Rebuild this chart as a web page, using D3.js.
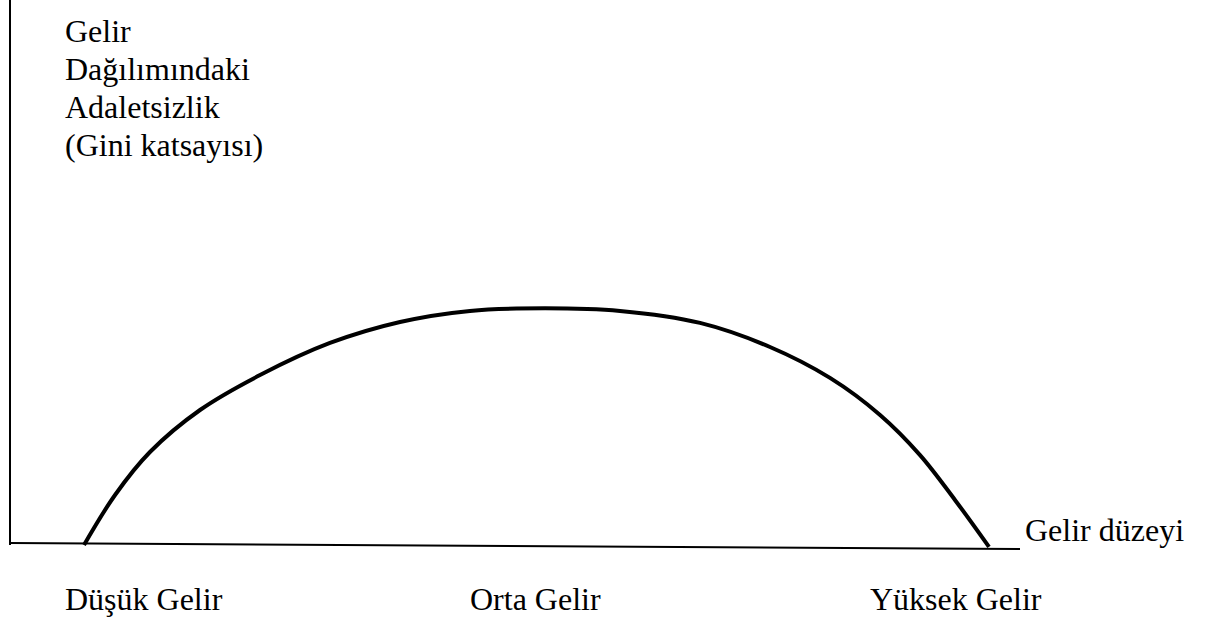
<!DOCTYPE html>
<html>
<head>
<meta charset="utf-8">
<script src="https://cdn.jsdelivr.net/npm/d3@7"></script>
<style>
    body { margin: 0; background: #fff; }
    text { font-family: "Liberation Serif", "Times New Roman", serif; fill: #000; }
</style>
</head>
<body>
<div id="chart"></div>
<script>
// income level (0-100) vs inequality (0-100)
var incomeLevel = [0, 3.43, 7.29, 12.82, 19.45, 27.18, 34.92, 42.65, 50.94, 59.23, 68.07, 75.8, 82.43, 87.96, 92.38, 96.24, 100];
var giniValue   = [0, 21.2, 39.4, 57.2, 72.0, 85.6, 94.5, 99.2, 100.3, 99.2, 94.1, 83.9, 70.8, 55.1, 38.1, 19.1, -0.8];

var yTitle = ["Gelir", "Dağılımındaki", "Adaletsizlik", "(Gini katsayısı)"];
var xTitle = "Gelir düzeyi";
var groupLabels = ["Düşük Gelir", "Orta Gelir", "Yüksek Gelir"];
var groupPos = [-2.1, 42.65, 86.85];

var W = 1213, H = 619;
var svg = d3.select("#chart").append("svg")
    .attr("width", W)
    .attr("height", H);

var x = d3.scaleLinear().domain([0, 100]).range([84, 989]);
var y = d3.scaleLinear().domain([0, 100]).range([545, 309]);

// axes (plain lines, no ticks)
svg.append("line")
    .attr("x1", 10).attr("y1", 0)
    .attr("x2", 10).attr("y2", 545)
    .attr("stroke", "#000").attr("stroke-width", 2);
svg.append("line")
    .attr("x1", 10).attr("y1", 543)
    .attr("x2", 1020).attr("y2", 549)
    .attr("stroke", "#000").attr("stroke-width", 2);

var pts = incomeLevel.map((d, i) => [d, giniValue[i]]);
var line = d3.line()
    .x((d) => x(d[0]))
    .y((d) => y(d[1]))
    .curve(d3.curveCatmullRom.alpha(0.5));

svg.append("path")
    .datum(pts)
    .attr("d", line)
    .attr("fill", "none")
    .attr("stroke", "#000")
    .attr("stroke-width", 4);

svg.append("g").selectAll("text")
    .data(yTitle)
    .enter()
    .append("text")
    .attr("x", 65)
    .attr("y", (d, i) => 42 + i * 38)
    .attr("font-size", 32)
    .text((d) => d);

svg.append("text")
    .attr("x", 1025)
    .attr("y", 541)
    .attr("font-size", 32)
    .text(xTitle);

svg.append("g").selectAll("text")
    .data(groupLabels)
    .enter()
    .append("text")
    .attr("x", (d, i) => x(groupPos[i]))
    .attr("y", 610)
    .attr("font-size", 32)
    .text((d) => d);
</script>
</body>
</html>
